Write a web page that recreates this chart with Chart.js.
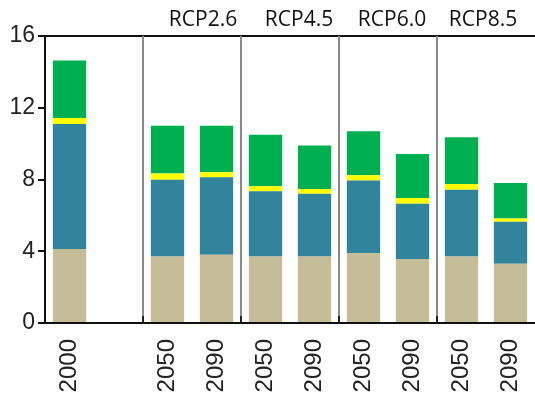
<!DOCTYPE html>
<html>
<head>
<meta charset="utf-8">
<script src="https://cdn.jsdelivr.net/npm/chart.js@4/dist/chart.umd.min.js"></script>
<style>
  html, body { margin: 0; padding: 0; background: #fff; }
  #wrap { width: 535px; height: 396px; }
</style>
</head>
<body>
<div id="wrap"><canvas id="stack_chart" width="535" height="396"></canvas></div>
<script>
// categories: baseline year, an empty spacer slot, then 2050/2090 per scenario
const years = ["2000", "", "2050", "2090", "2050", "2090", "2050", "2090", "2050", "2090"];
const scenarios = ["RCP2.6", "RCP4.5", "RCP6.0", "RCP8.5"];
const yTicks = [0, 4, 8, 12, 16];

// stacked segments, bottom to top
const tanPart    = [4.13, null, 3.71, 3.81, 3.71, 3.71, 3.90, 3.57, 3.71, 3.31];
const tealPart   = [6.97, null, 4.27, 4.31, 3.63, 3.50, 4.04, 3.08, 3.72, 2.34];
const yellowPart = [0.33, null, 0.35, 0.28, 0.28, 0.26, 0.29, 0.32, 0.32, 0.18];
const greenPart  = [3.20, null, 2.67, 2.60, 2.88, 2.43, 2.46, 2.45, 2.60, 1.98];

const sansFamily = "Arial, 'Liberation Sans', sans-serif";

// group separators, top frame line and scenario captions
const groupPlugin = {
    id: "groupPlugin",
    afterDatasetsDraw(chart) {
        const ctx = chart.ctx;
        const area = chart.chartArea;
        const x = chart.scales.x;
        ctx.save();
        // top frame line runs to the canvas edge
        ctx.strokeStyle = "#111";
        ctx.lineWidth = 2;
        ctx.beginPath();
        ctx.moveTo(area.left, area.top);
        ctx.lineTo(chart.width, area.top);
        ctx.stroke();

        const captionShift = [11, 9, 4, -3];
        scenarios.forEach((name, i) => {
            const first = 2 + i * 2;
            const sep = (x.getPixelForValue(first - 1) + x.getPixelForValue(first)) / 2;
            ctx.strokeStyle = "#8a8a8a";
            ctx.lineWidth = 2;
            ctx.beginPath();
            ctx.moveTo(sep, area.top);
            ctx.lineTo(sep, area.bottom);
            ctx.stroke();
            ctx.strokeStyle = "#222";
            ctx.beginPath();
            ctx.moveTo(sep, area.bottom - 7);
            ctx.lineTo(sep, area.bottom);
            ctx.stroke();

            const mid = (x.getPixelForValue(first) + x.getPixelForValue(first + 1)) / 2;
            ctx.fillStyle = "#111";
            ctx.font = "21px 'Open Sans', sans-serif";
            ctx.textAlign = "center";
            ctx.textBaseline = "middle";
            ctx.fillText(name, mid + captionShift[i], 20);
        });
        ctx.restore();
    },
};

function segment(label, data, color) {
    return {
        label: label,
        data: data,
        backgroundColor: color,
        borderWidth: 0,
        barPercentage: 0.68,
        categoryPercentage: 1.0,
    };
}

new Chart(document.getElementById("stack_chart"), {
    type: "bar",
    data: {
        labels: years,
        datasets: [
            segment("tan", tanPart, "#c4bd97"),
            segment("teal", tealPart, "#31849b"),
            segment("yellow", yellowPart, "#ffff00"),
            segment("green", greenPart, "#00b050"),
        ],
    },
    options: {
        responsive: false,
        animation: false,
        layout: { padding: { top: 36, right: 0, left: 0, bottom: 0 } },
        plugins: {
            legend: { display: false },
            tooltip: { enabled: false },
        },
        scales: {
            x: {
                stacked: true,
                offset: true,
                grid: { display: false },
                border: { display: true, color: "#111", width: 2 },
                ticks: {
                    color: "#222",
                    font: { family: sansFamily, size: 24 },
                    minRotation: 90,
                    maxRotation: 90,
                    padding: 8,
                    autoSkip: false,
                },
                afterFit(scale) {
                    scale.height = 73;
                    scale.paddingLeft = 0;
                    scale.paddingRight = 0;
                },
            },
            y: {
                stacked: true,
                min: 0,
                max: 16,
                afterBuildTicks(scale) {
                    scale.ticks = yTicks.map(v => ({ value: v }));
                },
                grid: {
                    drawOnChartArea: false,
                    drawTicks: true,
                    tickLength: 7,
                    color: "#111",
                    lineWidth: 2,
                },
                border: { display: true, color: "#111", width: 2 },
                ticks: { color: "#222", font: { family: sansFamily, size: 23 }, padding: 3 },
                afterFit(scale) {
                    scale.width = 45;
                    scale.paddingTop = 0;
                    scale.paddingBottom = 0;
                },
            },
        },
    },
    plugins: [groupPlugin],
});
</script>
</body>
</html>
